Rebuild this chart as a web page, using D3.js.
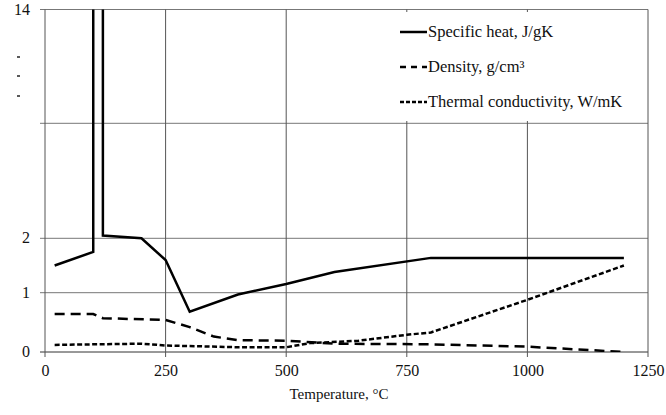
<!DOCTYPE html>
<html>
<head>
<meta charset="utf-8">
<script src="https://cdn.jsdelivr.net/npm/d3@7"></script>
<style>
  body { margin: 0; background: #fff; }
</style>
</head>
<body>
<script>
// chart data (temperature in °C); the peak runs off the top of the chart
let specificHeat = [
  [20, 1.5], [100, 1.75], [100, 16], [120, 16], [120, 2.14], [200, 2.0],
  [250, 1.6], [300, 0.68], [400, 0.97], [500, 1.16], [600, 1.38], [800, 1.64], [1200, 1.64]
]
let density = [
  [20, 0.64], [100, 0.64], [120, 0.57], [250, 0.54], [300, 0.42], [350, 0.26],
  [400, 0.2], [500, 0.19], [600, 0.14], [800, 0.13], [1000, 0.09], [1200, 0.0]
]
let conductivity = [
  [20, 0.12], [200, 0.14], [250, 0.11], [400, 0.08], [500, 0.08], [550, 0.15],
  [650, 0.19], [750, 0.29], [800, 0.33], [1000, 0.88], [1200, 1.5]
]
let xTicks = [0, 250, 500, 750, 1000, 1250]
let yTicks = [0, 1, 2, 8, 14]
let yLabels = ["0", "1", "2", "", "14"]
let legendNames = ["Specific heat, J/gK", "Density, g/cm³", "Thermal conductivity, W/mK"]

let width = 666, height = 415
let serif = "'Liberation Serif', 'Times New Roman', 'DejaVu Serif', serif"

let svg = d3.select("body").append("svg")
    .attr("width", width)
    .attr("height", height)
    .style("font-family", serif)

// broken y axis: the top part is squeezed, so a piecewise scale
let x = d3.scaleLinear().domain([0, 1250]).range([45, 648])
let y = d3.scaleLinear().domain(yTicks).range([352, 292.7, 238.3, 123.3, 9.5])

svg.append("clipPath").attr("id", "plot")
  .append("rect")
  .attr("x", x(0)).attr("y", y(14))
  .attr("width", x(1250) - x(0)).attr("height", y(0) - y(14))

// horizontal gridlines (with the little ticks on the left)
svg.selectAll(".hgrid")
  .data(yTicks)
  .enter()
  .append("line")
  .attr("x1", 40).attr("x2", x(1250))
  .attr("y1", d => y(d)).attr("y2", d => y(d))
  .attr("stroke", d => d == 0 ? "#333" : "#777")
  .attr("stroke-width", 1)

// vertical gridlines
svg.selectAll(".vgrid")
  .data(xTicks)
  .enter()
  .append("line")
  .attr("x1", d => x(d)).attr("x2", d => x(d))
  .attr("y1", y(14)).attr("y2", y(0) + 5)
  .attr("stroke", "#555")
  .attr("stroke-width", 1)

// legend background hides the grid behind it
let legend = svg.append("g")
legend.append("rect")
  .attr("x", 300).attr("y", 12)
  .attr("width", 345).attr("height", 109)
  .attr("fill", "#fff")

// y labels
svg.selectAll(".ylab")
  .data(yTicks)
  .enter()
  .append("text")
  .attr("x", 30)
  .attr("y", d => y(d) + 5)
  .attr("text-anchor", "end")
  .style("font-family", serif)
  .style("font-size", "16px")
  .attr("fill", "#111")
  .text((d, i) => yLabels[i])

// the break marks between 8 and 14
svg.selectAll(".brk")
  .data([57, 76, 96])
  .enter()
  .append("line")
  .attr("x1", 17).attr("x2", 20)
  .attr("y1", d => d).attr("y2", d => d)
  .attr("stroke", "#222")
  .attr("stroke-width", 1.5)

// x axis
let xAxis = svg.append("g")
  .attr("transform", `translate(0,${y(0)})`)
  .call(d3.axisBottom(x).tickValues(xTicks).tickFormat(d3.format("d")).tickSize(0).tickPadding(13))
xAxis.select(".domain").remove()
xAxis.selectAll("text")
  .style("font-family", serif)
  .style("font-size", "16px")
  .attr("fill", "#111")

svg.append("text")
  .attr("x", 339).attr("y", 399)
  .attr("text-anchor", "middle")
  .style("font-family", serif)
  .style("font-size", "15px")
  .attr("fill", "#111")
  .text("Temperature, °C")

// data lines
let line = d3.line().x(d => x(d[0])).y(d => y(d[1]))
let series = [
  { data: specificHeat, dash: null },
  { data: density, dash: "10,6" },
  { data: conductivity, dash: "5,2.5" }
]

svg.append("g")
  .attr("clip-path", "url(#plot)")
  .selectAll("path")
  .data(series)
  .enter()
  .append("path")
  .attr("d", d => line(d.data))
  .attr("fill", "none")
  .attr("stroke", "#000")
  .attr("stroke-width", 2.5)
  .attr("stroke-dasharray", d => d.dash)

// legend entries
let legendY = [32, 67, 102]
let legendDash = [null, "6,5", "4,2"]
legendNames.forEach((name, i) => {
  legend.append("line")
    .attr("x1", 400).attr("x2", 427)
    .attr("y1", legendY[i]).attr("y2", legendY[i])
    .attr("stroke", "#000")
    .attr("stroke-width", 2.5)
    .attr("stroke-dasharray", legendDash[i])
  legend.append("text")
    .attr("x", 428).attr("y", legendY[i] + 5)
    .style("font-family", serif)
    .style("font-size", "16.5px")
    .attr("fill", "#111")
    .text(name)
})
</script>
</body>
</html>
